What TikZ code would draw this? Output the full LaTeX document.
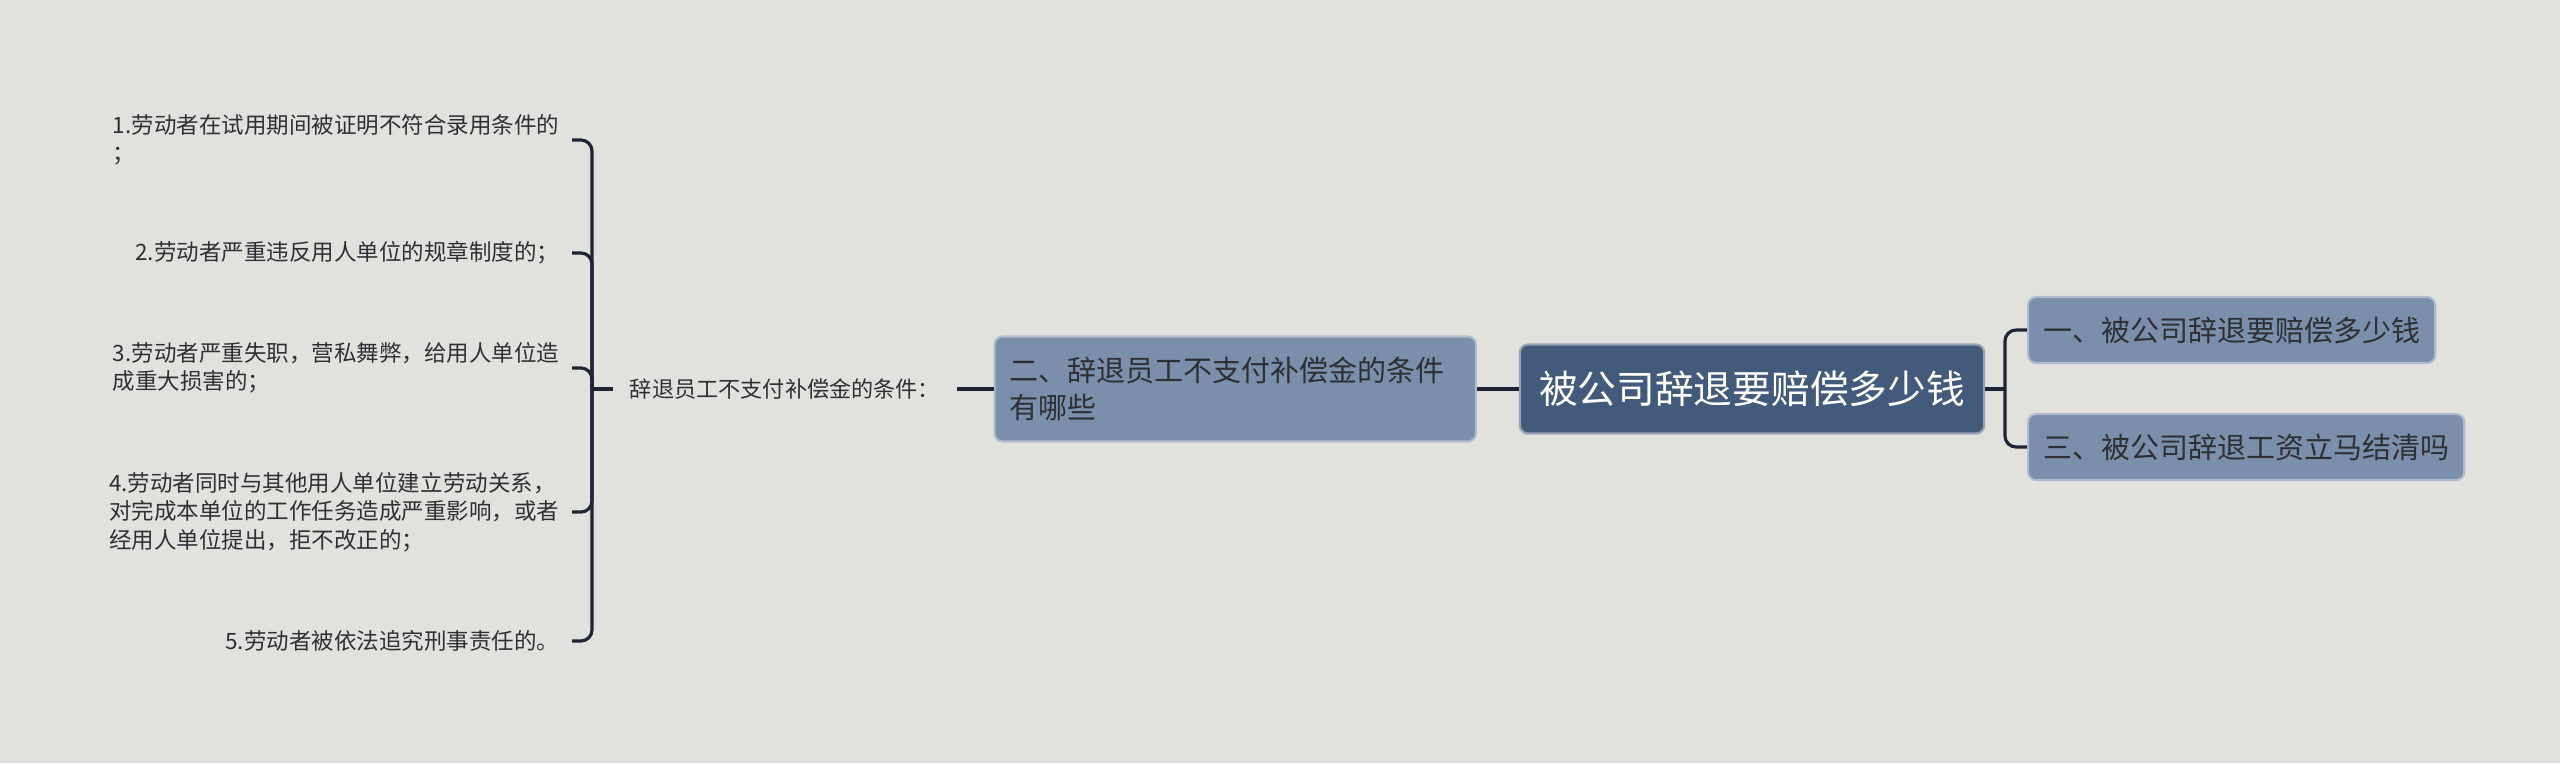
\documentclass[tikz,border=0pt]{standalone}
\usepackage{fontspec}
\setmainfont{Noto Sans CJK SC}
\usetikzlibrary{calc}
\definecolor{bgcol}{HTML}{E1E2DD}
\definecolor{rootcol}{HTML}{435A7A}
\definecolor{subcol}{HTML}{7B8EAB}
\definecolor{linecol}{HTML}{1E2433}
\definecolor{txtcol}{HTML}{2E3035}
\tikzset{
  roottopic/.style={fill=rootcol, draw=rootcol!55!white, line width=0.6pt, rounded corners=0.08cm, text=white, inner sep=0pt, font=\fontsize{11pt}{13pt}\selectfont},
  subtopic/.style={fill=subcol, draw=subcol!60!white, line width=0.6pt, rounded corners=0.08cm, text=txtcol, inner ysep=0pt, inner xsep=0.15cm, font=\fontsize{8.25pt}{10.5pt}\selectfont},
  plainlabel/.style={text=txtcol, inner sep=0pt, font=\fontsize{6.3pt}{8pt}\selectfont},
  leaf/.style={text=txtcol, inner ysep=0pt, inner xsep=0.12cm, align=left, anchor=east, font=\fontsize{6.4pt}{8.1pt}\selectfont},
  branch/.style={draw=linecol, line width=0.9pt, rounded corners=0.11cm}
}
\begin{document}
\begin{tikzpicture}[x=0.01cm, y=-0.01cm]
  \fill[bgcol] (0,0) rectangle (2560,763);
  % main topic
  \node[roottopic, minimum width=4.64cm, minimum height=0.89cm] (root) at (1752,389) {被公司辞退要赔偿多少钱};
  % right side
  \node[subtopic, anchor=west, minimum height=0.66cm] (r1) at (2027,330) {一、被公司辞退要赔偿多少钱};
  \node[subtopic, anchor=west, minimum height=0.66cm] (r2) at (2027,447) {三、被公司辞退工资立马结清吗};
  % left side
  \node[subtopic, anchor=east, text width=4.51cm, align=left, minimum height=1.05cm] (lc) at (1477,389) {二、辞退员工不支付补偿金的条件\\有哪些};
  \node[plainlabel, minimum width=3.42cm] (mid) at (785,389) {辞退员工不支付补偿金的条件：};
  \node[leaf] (c1) at (572,140) {1.劳动者在试用期间被证明不符合录用条件的\\；};
  \node[leaf] (c2) at (572,253) {2.劳动者严重违反用人单位的规章制度的；};
  \node[leaf] (c3) at (572,368) {3.劳动者严重失职，营私舞弊，给用人单位造\\成重大损害的；};
  \node[leaf] (c4) at (572,512) {4.劳动者同时与其他用人单位建立劳动关系，\\对完成本单位的工作任务造成严重影响，或者\\经用人单位提出，拒不改正的；};
  \node[leaf] (c5) at (572,641) {5.劳动者被依法追究刑事责任的。};
  % connectors
  \coordinate (rj) at (2005,389);
  \coordinate (lj) at (592,389);
  \draw[branch] (root.east) -- (rj);
  \draw[branch] (rj) |- (r1.west);
  \draw[branch] (rj) |- (r2.west);
  \draw[branch] (root.west) -- (lc.east);
  \draw[branch] (lc.west) -- (mid.east);
  \draw[branch] (mid.west) -- (lj);
  \foreach \c in {c1,c2,c3,c4,c5}
    \draw[branch] (lj) |- (\c.east);
\end{tikzpicture}
\end{document}
